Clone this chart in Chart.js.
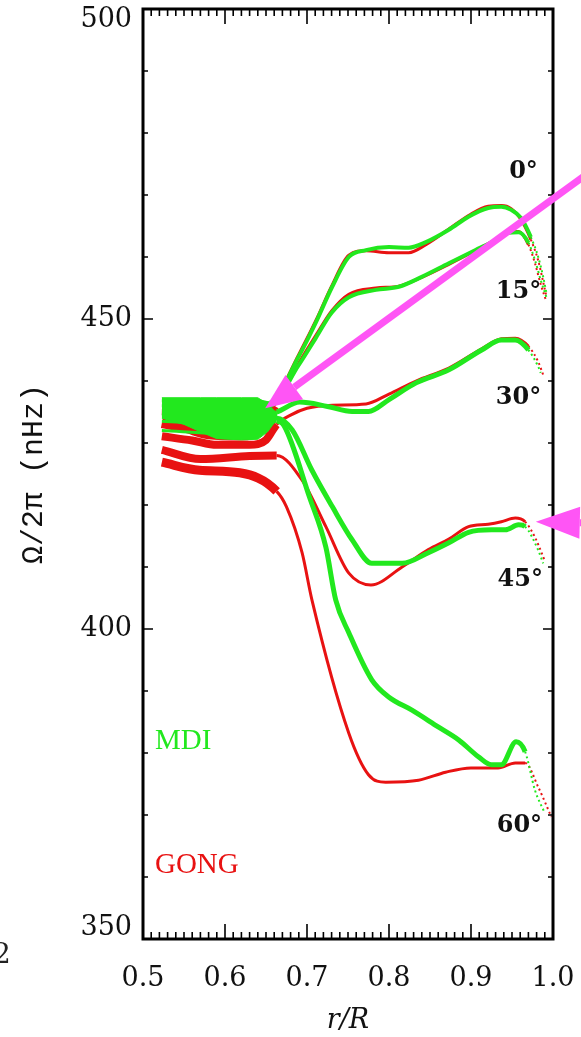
<!DOCTYPE html>
<html>
<head>
<meta charset="UTF-8">
<title>Rotation rate vs radius - MDI and GONG</title>
<script src="https://cdn.jsdelivr.net/npm/chart.js"></script>
<style>
  html, body { margin: 0; padding: 0; background: #fff; }
  canvas { display: block; }
</style>
</head>
<body>
<canvas id="rotChart" width="581" height="1037"></canvas>
<script>
// r/R and Omega/2pi (nHz), one pair per latitude
const mdi00R = [0.523, 0.60, 0.64, 0.654, 0.690, 0.711, 0.730, 0.751, 0.772, 0.800, 0.824, 0.845, 0.873, 0.897, 0.921, 0.937, 0.949, 0.961, 0.973, 0.982, 0.988, 0.992];
const mdi00V = [436.8, 436.8, 436.8, 436.5, 444.0, 449.5, 455.0, 460.0, 461.1, 461.6, 461.5, 462.4, 464.4, 466.5, 467.9, 468.1, 467.6, 466.3, 463.2, 460.0, 456.8, 454.2];
const mdi15R = [0.523, 0.60, 0.64, 0.654, 0.690, 0.711, 0.730, 0.751, 0.784, 0.812, 0.840, 0.873, 0.905, 0.930, 0.945, 0.958, 0.970, 0.978, 0.985, 0.992];
const mdi15V = [436.0, 436.0, 436.0, 436.0, 442.6, 447.0, 451.0, 453.5, 454.7, 455.2, 456.8, 459.0, 461.1, 462.7, 463.9, 464.0, 462.3, 459.5, 456.3, 453.5];
const mdi30R = [0.523, 0.60, 0.64, 0.663, 0.691, 0.725, 0.755, 0.775, 0.800, 0.833, 0.873, 0.913, 0.937, 0.954, 0.970, 0.982, 0.985];
const mdi30V = [434.5, 434.5, 434.5, 435.0, 436.6, 435.9, 435.1, 435.1, 437.0, 439.7, 441.8, 445.0, 446.6, 446.6, 445.0, 442.3, 441.3];
const mdi45R = [0.523, 0.60, 0.64, 0.663, 0.682, 0.706, 0.731, 0.755, 0.779, 0.816, 0.848, 0.873, 0.897, 0.925, 0.942, 0.958, 0.966, 0.982, 0.988];
const mdi45V = [433.5, 433.0, 433.0, 434.0, 432.1, 425.6, 419.7, 414.4, 410.6, 410.6, 412.3, 413.9, 415.6, 416.0, 416.0, 416.8, 416.5, 412.7, 410.6];
const mdi60R = [0.523, 0.60, 0.64, 0.663, 0.672, 0.703, 0.723, 0.735, 0.751, 0.779, 0.800, 0.828, 0.860, 0.885, 0.909, 0.925, 0.937, 0.955, 0.966, 0.978, 0.990];
const mdi60V = [432.0, 431.5, 431.5, 433.5, 432.8, 421.3, 413.2, 404.7, 399.4, 391.8, 389.0, 386.9, 384.2, 382.1, 379.4, 378.1, 378.1, 381.8, 380.2, 374.0, 370.3];

const gong00R = [0.523, 0.60, 0.64, 0.654, 0.690, 0.711, 0.730, 0.751, 0.772, 0.800, 0.824, 0.845, 0.873, 0.897, 0.921, 0.937, 0.949, 0.961, 0.973, 0.982, 0.988, 0.992];
const gong00V = [435.0, 434.8, 434.8, 435.5, 444.3, 449.8, 455.3, 460.3, 461.0, 460.7, 460.7, 462.0, 464.5, 466.7, 468.2, 468.3, 467.8, 466.0, 462.8, 459.4, 456.0, 453.6];
const gong15R = [0.523, 0.55, 0.58, 0.62, 0.645, 0.660, 0.690, 0.711, 0.730, 0.751, 0.784, 0.812, 0.840, 0.873, 0.905, 0.930, 0.945, 0.958, 0.970, 0.978, 0.985, 0.992];
const gong15V = [433.2, 432.5, 431.4, 431.2, 432.5, 436.0, 442.9, 447.4, 451.3, 454.0, 455.0, 455.3, 456.7, 458.8, 461.0, 462.8, 464.0, 464.1, 462.0, 459.0, 455.6, 452.8];
const gong30R = [0.523, 0.56, 0.59, 0.63, 0.650, 0.663, 0.680, 0.700, 0.731, 0.772, 0.800, 0.833, 0.873, 0.913, 0.937, 0.954, 0.970, 0.982, 0.988];
const gong30V = [431.1, 430.4, 429.7, 429.7, 430.5, 433.0, 434.5, 435.6, 436.1, 436.3, 437.9, 440.0, 442.1, 445.2, 446.8, 446.9, 445.6, 443.1, 441.0];
const gong45R = [0.523, 0.57, 0.63, 0.663, 0.694, 0.723, 0.751, 0.778, 0.816, 0.848, 0.873, 0.897, 0.921, 0.937, 0.954, 0.966, 0.978, 0.990];
const gong45V = [428.9, 427.4, 427.9, 428.0, 424.0, 416.5, 409.0, 407.1, 410.0, 412.8, 414.5, 416.5, 416.9, 417.3, 417.9, 417.3, 414.8, 411.0];
const gong60R = [0.523, 0.569, 0.618, 0.663, 0.675, 0.694, 0.706, 0.751, 0.775, 0.796, 0.836, 0.869, 0.900, 0.933, 0.954, 0.966, 0.982, 0.998];
const gong60V = [426.9, 425.6, 425.2, 422.2, 419.7, 412.3, 404.7, 383.2, 376.5, 375.3, 375.6, 376.9, 377.6, 377.6, 378.4, 378.4, 374.5, 369.7];

// MDI envelope in the radiative interior, where the error bands merge
const mdiCoreR = [0.523, 0.55, 0.57, 0.59, 0.62, 0.64, 0.652, 0.664];
const mdiCoreTop = [437.3, 437.3, 437.3, 437.3, 437.3, 437.3, 436.3, 434.7];
const mdiCoreBottom = [434.0, 433.0, 431.8, 430.7, 430.5, 430.6, 431.8, 434.0];

const latitudes = ['0°', '15°', '30°', '45°', '60°'];
const latLabelR = [0.964, 0.958, 0.958, 0.960, 0.959];
const latLabelV = [473.7, 454.4, 437.3, 407.9, 368.2];

const xTicks = [0.5, 0.6, 0.7, 0.8, 0.9, 1.0];
const yTicks = [350, 400, 450, 500];

const GREEN = 'rgb(34,232,30)';
const RED = 'rgb(232,18,18)';
const PINK = 'rgb(255,85,245)';

function pts(rs, vs) {
    return rs.map((r, i) => ({ x: r, y: vs[i] }));
}

// thick in the core, thin dotted near the surface
function seg(coreW, w) {
    return {
        borderWidth: c => c.p0.parsed.x < 0.652 ? coreW : (c.p1.parsed.x > 0.976 ? 2 : w),
        borderDash: c => c.p1.parsed.x > 0.976 ? [2, 3] : undefined
    };
}

function curve(label, rs, vs, color, coreW, w, order) {
    return {
        label: label,
        data: pts(rs, vs),
        borderColor: color,
        borderWidth: w,
        pointRadius: 0,
        fill: false,
        order: order,
        cubicInterpolationMode: 'monotone',
        segment: seg(coreW, w)
    };
}

const datasets = [
    { label: 'MDI core top', data: pts(mdiCoreR, mdiCoreTop), borderColor: GREEN, borderWidth: 1,
      pointRadius: 0, fill: false, order: 0 },
    { label: 'MDI core bottom', data: pts(mdiCoreR, mdiCoreBottom), borderColor: GREEN, borderWidth: 1,
      backgroundColor: GREEN, pointRadius: 0, fill: '-1', order: 0 },
    curve('MDI 0°', mdi00R, mdi00V, GREEN, 3, 4, 1),
    curve('MDI 15°', mdi15R, mdi15V, GREEN, 3, 4, 1),
    curve('MDI 30°', mdi30R, mdi30V, GREEN, 3, 5, 1),
    curve('MDI 45°', mdi45R, mdi45V, GREEN, 3, 5, 1),
    curve('MDI 60°', mdi60R, mdi60V, GREEN, 3, 5, 1),
    curve('GONG 0°', gong00R, gong00V, RED, 6, 3, 2),
    curve('GONG 15°', gong15R, gong15V, RED, 10, 3, 2),
    curve('GONG 30°', gong30R, gong30V, RED, 8, 3, 2),
    curve('GONG 45°', gong45R, gong45V, RED, 8, 3, 2),
    curve('GONG 60°', gong60R, gong60V, RED, 9, 3, 2)
];

function arrow(ctx, x0, y0, x1, y1, w, headLen, headHalf) {
    const ang = Math.atan2(y1 - y0, x1 - x0);
    const bx = x1 - headLen * Math.cos(ang), by = y1 - headLen * Math.sin(ang);
    ctx.lineWidth = w;
    ctx.beginPath();
    ctx.moveTo(x0, y0);
    ctx.lineTo(bx, by);
    ctx.stroke();
    ctx.beginPath();
    ctx.moveTo(x1, y1);
    ctx.lineTo(bx + headHalf * Math.sin(ang), by - headHalf * Math.cos(ang));
    ctx.lineTo(bx - headHalf * Math.sin(ang), by + headHalf * Math.cos(ang));
    ctx.closePath();
    ctx.fill();
}

const framePlugin = {
    id: 'frame',
    afterDatasetsDraw(chart) {
        const { ctx, chartArea: a, scales: { x, y } } = chart;
        ctx.save();
        ctx.strokeStyle = '#000';
        ctx.lineWidth = 1.6;
        ctx.beginPath();
        for (let i = 0; i <= 50; i++) {
            const px = x.getPixelForValue(0.5 + i * 0.01);
            const len = i % 10 === 0 ? 15 : 7;
            ctx.moveTo(px, a.bottom); ctx.lineTo(px, a.bottom - len);
            ctx.moveTo(px, a.top); ctx.lineTo(px, a.top + len);
        }
        for (let v = 350; v <= 500; v += 10) {
            const py = y.getPixelForValue(v);
            const len = v % 50 === 0 ? 10 : 5;
            ctx.moveTo(a.left, py); ctx.lineTo(a.left + len, py);
            ctx.moveTo(a.right, py); ctx.lineTo(a.right - len, py);
        }
        ctx.stroke();
        ctx.lineWidth = 3;
        ctx.strokeRect(a.left, a.top, a.right - a.left, a.bottom - a.top);

        // latitude labels
        ctx.fillStyle = '#111';
        ctx.font = 'bold 24px "DejaVu Serif"';
        ctx.textAlign = 'center';
        ctx.textBaseline = 'middle';
        latitudes.forEach((t, i) => {
            ctx.fillText(t, x.getPixelForValue(latLabelR[i]), y.getPixelForValue(latLabelV[i]));
        });

        // instrument labels
        ctx.font = '29px "Liberation Serif"';
        ctx.textAlign = 'left';
        ctx.fillStyle = GREEN;
        ctx.fillText('MDI', x.getPixelForValue(0.5146), y.getPixelForValue(381.9));
        ctx.fillStyle = RED;
        ctx.fillText('GONG', x.getPixelForValue(0.5146), y.getPixelForValue(361.9));

        // edge of the neighbouring panel label
        ctx.fillStyle = '#222';
        ctx.font = '28px "DejaVu Serif"';
        ctx.fillText('2', -7, 956);

        // pink arrows
        ctx.strokeStyle = PINK;
        ctx.fillStyle = PINK;
        ctx.lineCap = 'butt';
        arrow(ctx, x.getPixelForValue(1.05), y.getPixelForValue(474.2),
              x.getPixelForValue(0.649), y.getPixelForValue(435.6), 7, 36, 15);
        arrow(ctx, x.getPixelForValue(1.07), y.getPixelForValue(417.0),
              x.getPixelForValue(0.979), y.getPixelForValue(417.3), 7, 44, 16);
        ctx.restore();
    }
};

new Chart(document.getElementById('rotChart'), {
    type: 'line',
    data: { datasets: datasets },
    options: {
        responsive: false,
        animation: false,
        layout: { padding: { left: 0, right: 28, top: 9, bottom: 0 } },
        plugins: { legend: { display: false }, tooltip: { enabled: false } },
        scales: {
            x: {
                type: 'linear', min: 0.5, max: 1.0,
                grid: { display: false, drawTicks: false },
                border: { display: false },
                afterBuildTicks: s => { s.ticks = xTicks.map(v => ({ value: v })); },
                ticks: {
                    callback: v => Number(v).toFixed(1),
                    color: '#111', padding: 24, maxRotation: 0, autoSkip: false,
                    font: { family: 'DejaVu Serif', size: 27 }
                },
                title: {
                    display: true, text: 'r/R', color: '#111',
                    font: { family: 'DejaVu Serif', style: 'italic', size: 27 },
                    padding: { top: 0, bottom: 0 }
                },
                afterFit: s => { s.height = 98; s.paddingLeft = 0; s.paddingRight = 0; }
            },
            y: {
                type: 'linear', min: 350, max: 500,
                grid: { display: false, drawTicks: false },
                border: { display: false },
                afterBuildTicks: s => { s.ticks = yTicks.map(v => ({ value: v })); },
                ticks: {
                    // end labels sit inside the frame, as in the original plot
                    callback: v => v === 500 ? ['', String(v)] : (v === 350 ? [String(v), ''] : String(v)),
                    color: '#111', padding: 11,
                    font: { family: 'DejaVu Serif', size: 27, lineHeight: 0.85 }
                },
                title: {
                    display: true, text: 'Ω/2π (nHz)', color: '#111',
                    font: { family: 'Liberation Mono', size: 30 },
                    padding: { top: 16, bottom: 0 }
                },
                afterFit: s => { s.width = 143; s.paddingTop = 0; s.paddingBottom = 0; }
            }
        }
    },
    plugins: [framePlugin]
});
</script>
</body>
</html>
